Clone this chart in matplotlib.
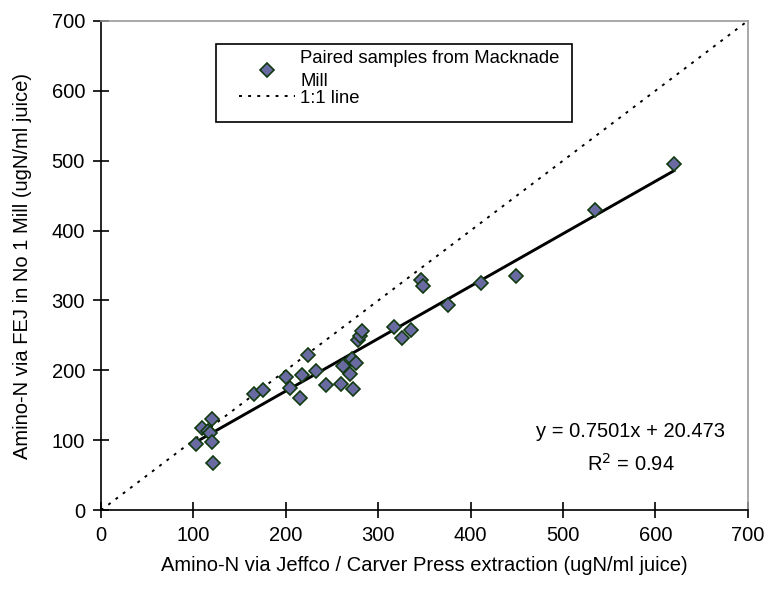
import numpy as np
import matplotlib
matplotlib.use("Agg")
import matplotlib.pyplot as plt
from matplotlib.lines import Line2D
from matplotlib.patches import Rectangle

# paired samples
jeffco = [103, 109, 116, 118, 120, 120, 121, 166, 175, 200, 204, 215, 217,
          224, 233, 244, 260, 262, 269, 272, 273, 276, 278, 280, 282, 317,
          326, 335, 346, 348, 376, 411, 449, 535, 620]
fej = [95, 118, 113, 110, 97, 130, 68, 166, 172, 190, 175, 161, 193,
       222, 199, 179, 180, 207, 195, 217, 173, 211, 243, 249, 257, 262,
       246, 258, 329, 320, 293, 325, 335, 430, 495]

slope = 0.7501
intercept = 20.473
r2 = 0.94

plt.rcParams['font.family'] = ['Liberation Sans', 'DejaVu Sans']

fig = plt.figure(figsize=(7.71, 5.94), dpi=100)
ax = fig.add_axes([0.131, 0.141, 0.839, 0.824])

# 1:1 line
ax.plot([0, 700], [0, 700], color='black', lw=1.4, dashes=(1.5, 3.2))

# trendline over the data range
xs = np.array([min(jeffco), max(jeffco)])
ax.plot(xs, slope * xs + intercept, color='black', lw=2.1, zorder=2)

ax.plot(jeffco, fej, linestyle='none', marker='D', ms=7.2,
        mfc='#6a6aa2', mec='#113a11', mew=1.2, zorder=3)

ax.set_xlim(0, 700)
ax.set_ylim(0, 700)
ax.set_xticks(np.arange(0, 701, 100))
ax.set_yticks(np.arange(0, 701, 100))
ax.tick_params(direction='inout', length=11, width=1.2, labelsize=14.5,
               color='black', pad=6)
for side in ['top', 'right']:
    ax.spines[side].set_color('#999999')
    ax.spines[side].set_linewidth(1.2)
for side in ['left', 'bottom']:
    ax.spines[side].set_linewidth(1.2)

ax.set_xlabel('Amino-N via Jeffco / Carver Press extraction (ugN/ml juice)',
              fontsize=14.5, labelpad=8)
ax.set_ylabel('Amino-N via FEJ in No 1 Mill (ugN/ml juice)',
              fontsize=14.5, labelpad=14)

ax.text(573, 113, 'y = 0.7501x + 20.473', fontsize=14.5,
        ha='center', va='center')
ax.text(573, 67, r'R$^2$ = %.2f' % r2, fontsize=14.5,
        ha='center', va='center')

# legend box drawn separately so its size matches the original
ax.add_patch(Rectangle((0.1777, 0.793), 0.550, 0.160, transform=ax.transAxes,
                       fill=True, facecolor='white', edgecolor='black',
                       lw=1.2, zorder=4))
handles = [Line2D([], [], linestyle='none', marker='D', ms=7.2,
                  mfc='#6a6aa2', mec='#113a11', mew=1.2),
           Line2D([], [], color='black', lw=1.4, dashes=(1.5, 3.2))]
leg = ax.legend(handles, ['Paired samples from Macknade\nMill', '1:1 line'],
                loc='upper left', fontsize=13.3, frameon=False, borderaxespad=0,
                borderpad=0.3, handlelength=3.0, labelspacing=0.0,
                handletextpad=0.3,
                bbox_to_anchor=(0.1777 + 18 / 647, 0.953 - 1 / 489))
leg.set_zorder(5)
leg.get_texts()[0].set_linespacing(1.4)

fig.savefig('out.png', dpi=100)
